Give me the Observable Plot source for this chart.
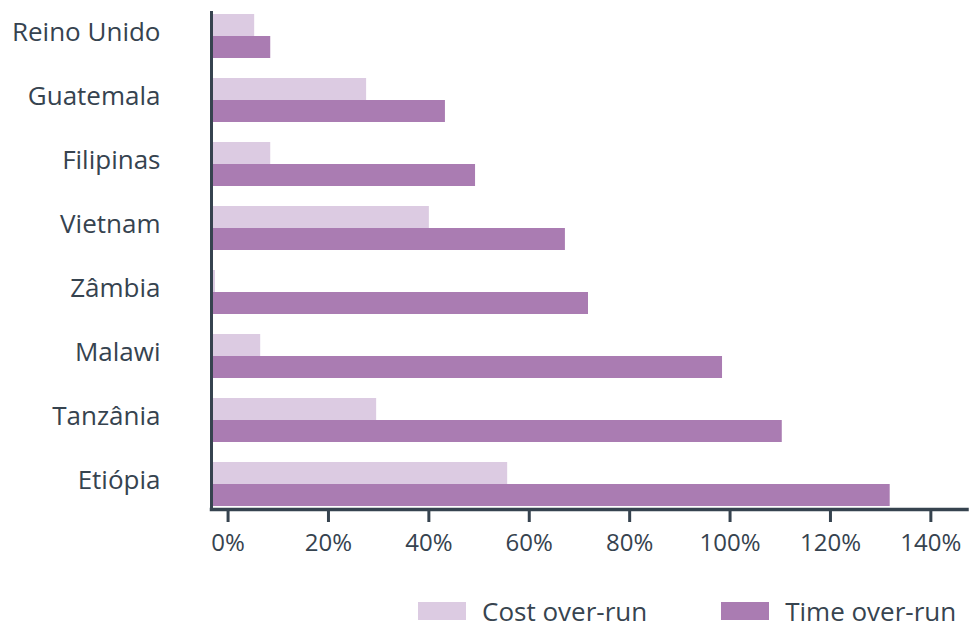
<!DOCTYPE html>
<html>
<head>
<meta charset="utf-8">
<script src="https://cdn.jsdelivr.net/npm/d3@7"></script>
<script src="https://cdn.jsdelivr.net/npm/@observablehq/plot@0.6"></script>
<style>
  body { margin: 0; background: #fff; font-family: "Open Sans", Lato, sans-serif; overflow: hidden; }
  #chart svg { display: block; }
  #legend { display: flex; align-items: center; padding-left: 418px; padding-top: 26px; color: #37444f; font-size: 26px; line-height: 30px; }
  .item { display: flex; align-items: center; }
  .sw { width: 48px; height: 18px; margin-right: 16px; }
  .item + .item { margin-left: 74px; }
</style>
</head>
<body>
<div id="chart"></div>
<div id="legend"></div>
<script>
const countries = ["Reino Unido", "Guatemala", "Filipinas", "Vietnam", "Zâmbia", "Malawi", "Tanzânia", "Etiópia"];
const costOverrun = [5.3, 27.6, 8.5, 40.1, -2.5, 6.5, 29.6, 55.7];
const timeOverrun = [8.5, 43.3, 49.3, 67.2, 71.8, 98.5, 110.4, 131.9];
const seriesNames = ["Cost over-run", "Time over-run"];
const seriesColors = ["#dccbe2", "#aa7cb2"];
const xTicks = [0, 20, 40, 60, 80, 100, 120, 140];
const xDomain = [-3.3, 147.2];

const axisColor = "#36434f";
const costData = countries.map((c, i) => ({country: c, value: costOverrun[i]}));
const timeData = countries.map((c, i) => ({country: c, value: timeOverrun[i]}));

const chart = Plot.plot({
  width: 971,
  height: 570,
  marginLeft: 211,
  marginRight: 4.5,
  marginTop: 11,
  marginBottom: 62,
  style: {color: axisColor, fontFamily: "'Open Sans', Lato, sans-serif", background: "#fff"},
  x: {domain: xDomain},
  y: {domain: countries, paddingInner: 0.32, paddingOuter: 0},
  marks: [
    Plot.barX(costData, {y: "country", x1: () => xDomain[0], x2: "value", fill: seriesColors[0], insetBottom: 22}),
    Plot.barX(timeData, {y: "country", x1: () => xDomain[0], x2: "value", fill: seriesColors[1], insetTop: 22}),
    Plot.ruleX([xDomain[0]], {stroke: axisColor, strokeWidth: 3}),
    Plot.frame({anchor: "bottom", stroke: axisColor, strokeWidth: 3.5, dy: 1}),
    Plot.axisX({ticks: xTicks, tickFormat: d => d + "%", tickSize: 14, tickPadding: 11, fontSize: 24, strokeWidth: 3, stroke: axisColor, label: null}),
    Plot.axisY({tickSize: 0, tickPadding: 51, fontSize: 26, dy: -4, label: null})
  ]
});
document.getElementById("chart").appendChild(chart);

const legend = document.getElementById("legend");
seriesNames.forEach((name, i) => {
  const item = document.createElement("div");
  item.className = "item";
  const sw = document.createElement("div");
  sw.className = "sw";
  sw.style.background = seriesColors[i];
  const label = document.createElement("span");
  label.textContent = name;
  item.appendChild(sw);
  item.appendChild(label);
  legend.appendChild(item);
});
</script>
</body>
</html>
